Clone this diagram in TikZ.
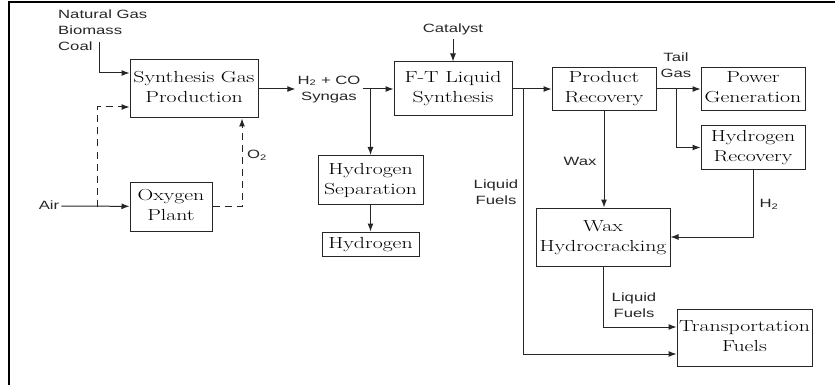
\documentclass[tikz,border=0pt]{standalone}
\usepackage{fontspec}
\usepackage{graphicx}
\setsansfont{Liberation Sans}
\usetikzlibrary{arrows.meta,calc}
\newcommand{\boxtext}[1]{\scalebox{1.36}[1]{\begin{tabular}{@{}c@{}}#1\end{tabular}}}
\newcommand{\flowtext}[2][c]{\scalebox{1.39}[1]{\begin{tabular}{@{}#1@{}}#2\end{tabular}}}
\tikzstyle{procbox}=[rectangle,draw=black!85,line width=1pt,inner sep=0pt,
                     align=center,font=\rmfamily\fontsize{16}{20}\selectfont]
\tikzstyle{flowlabel}=[inner sep=2pt,align=center,text=black!85,
                       font=\sffamily\fontsize{12}{16.5}\selectfont]
\tikzstyle{stream}=[draw=black!85,line width=1pt,
                    -{Latex[length=8pt,width=6pt]}]
\tikzstyle{o2stream}=[stream,dash pattern=on 7pt off 5pt]

\begin{document}
\begin{tikzpicture}[x=1pt,y=-1pt]
    \useasboundingbox (0,0) rectangle (835,385);
    \draw[line width=2pt] (835,2.5) -- (8.5,2.5) -- (8.5,385);
    % process units
    \node (syn)   at (194,89)    [procbox,minimum width=128pt,minimum height=58pt]{\boxtext{Synthesis Gas\\Production}};
    \node (oxy)   at (171,206.5) [procbox,minimum width=82pt,minimum height=49pt]{\boxtext{Oxygen\\Plant}};
    \node (ft)    at (453,89)    [procbox,minimum width=118pt,minimum height=54pt]{\boxtext{F-T Liquid\\Synthesis}};
    \node (hsep)  at (370.5,180) [procbox,minimum width=105pt,minimum height=49pt]{\boxtext{Hydrogen\\Separation}};
    \node (hyd)   at (370.5,244) [procbox,minimum width=97pt,minimum height=24pt]{\boxtext{Hydrogen}};
    \node (prod)  at (604,89)    [procbox,minimum width=104pt,minimum height=43pt]{\boxtext{Product\\Recovery}};
    \node (pow)   at (753,89)    [procbox,minimum width=104pt,minimum height=43pt]{\boxtext{Power\\Generation}};
    \node (hrec)  at (753,147.5) [procbox,minimum width=104pt,minimum height=43pt]{\boxtext{Hydrogen\\Recovery}};
    \node (wax)   at (603,237)   [procbox,minimum width=134pt,minimum height=58pt]{\boxtext{Wax\\Hydrocracking}};
    \node (trans) at (744.5,337.5) [procbox,minimum width=135pt,minimum height=57pt]{\boxtext{Transportation\\Fuels}};
    % stream labels
    \node (feed)   at (56,31)  [flowlabel,anchor=west,
                                font=\sffamily\fontsize{12}{16}\selectfont]{\flowtext[l]{Natural Gas\\Biomass\\Coal}};
    \node (air)    at (49,206) [flowlabel]{\flowtext{Air}};
    \node (o2)     at (257,155) [flowlabel]{\flowtext{O\textsubscript{2}}};
    \node (syngas) at (329,89) [flowlabel]{\flowtext{H\textsubscript{2} + CO\\Syngas}};
    \node (cat)    at (453,29) [flowlabel]{\flowtext{Catalyst}};
    \node (lfa)    at (496,193) [flowlabel]{\flowtext{Liquid\\Fuels}};
    \node (tail)   at (676,66) [flowlabel]{\flowtext{Tail\\Gas}};
    \node (waxl)   at (580,162) [flowlabel]{\flowtext{Wax}};
    \node (h2)     at (769,204) [flowlabel]{\flowtext{H\textsubscript{2}}};
    \node (lfb)    at (634,306) [flowlabel]{\flowtext{Liquid\\Fuels}};
    % branch points
    \coordinate (feedin) at (99,42);
    \coordinate (airsplit) at (97,206.5);
    \coordinate (ftsplit) at (523,89);
    \coordinate (tgsplit) at (676,89);
    % streams
    \draw[stream] (feedin) |- ($(syn.west)+(0,-16)$);
    \draw[stream] (air) -- (oxy);
    \draw[o2stream] (airsplit) |- ($(syn.west)+(0,18)$);
    \draw[o2stream] (oxy.east) -| ($(syn.south)+(48,0)$);
    \draw[stream] (syn.east) -- (syngas.west);
    \draw[stream] (syngas.east) -- (syngas.east -| ft.west);
    \draw[stream] (syngas.east -| hsep.north) -- (hsep.north);
    \draw[stream] (hsep) -- (hyd);
    \draw[stream] (cat) -- (ft);
    \draw[stream] (ft.east) -- (ft.east -| prod.west);
    \draw[stream] (ftsplit) |- ($(trans.west)+(0,16.5)$);
    \draw[stream] (prod) -- (pow);
    \draw[stream] (tgsplit) |- (hrec.west);
    \draw[stream] (prod.south) -- (prod.south |- wax.north);
    \draw[stream] (hrec.south) |- (wax.east);
    \draw[stream] (wax.south) |- ($(trans.west)+(0,-10.5)$);
\end{tikzpicture}
\end{document}
